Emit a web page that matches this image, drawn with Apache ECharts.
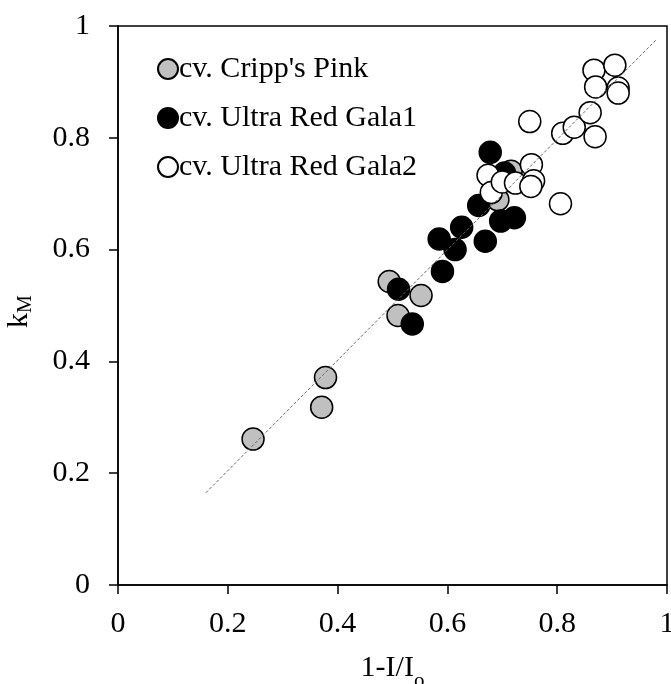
<!DOCTYPE html>
<html>
<head>
<meta charset="utf-8">
<script src="https://cdn.jsdelivr.net/npm/echarts@6/dist/echarts.min.js"></script>
<style>html,body{margin:0;padding:0;background:#fff;overflow:hidden;}#c{width:671px;height:684px;}</style>
</head>
<body>
<div id="c"></div>
<script>
// Series data [x = 1-I/Io, y = kM]
const crippsPink = [[0.246,0.261],[0.371,0.318],[0.378,0.371],[0.494,0.543],[0.510,0.482],[0.552,0.518],[0.692,0.689],[0.716,0.740]];
const gala1 = [[0.511,0.529],[0.536,0.467],[0.591,0.561],[0.585,0.619],[0.614,0.600],[0.626,0.640],[0.657,0.679],[0.669,0.615],[0.697,0.651],[0.722,0.657],[0.678,0.774],[0.704,0.737]];
const gala2 = [[0.674,0.733],[0.680,0.702],[0.700,0.721],[0.724,0.719],[0.753,0.752],[0.757,0.723],[0.752,0.713],[0.806,0.682],[0.750,0.829],[0.810,0.808],[0.831,0.819],[0.860,0.845],[0.869,0.802],[0.867,0.921],[0.905,0.930],[0.870,0.891],[0.911,0.889],[0.911,0.880]];
const fitLine = [[0.16,0.165],[0.98,0.975]];
const seriesNames = ["cv. Cripp's Pink","cv. Ultra Red Gala1","cv. Ultra Red Gala2"];
const xTicks = [0,0.2,0.4,0.6,0.8,1];
const yTicks = [0,0.2,0.4,0.6,0.8,1];

const FONT = 'Liberation Serif';
const chart = echarts.init(document.getElementById('c'));
const mk = (name, data, color) => ({
  name, type:'scatter', data, symbol:'circle', symbolSize:22,
  itemStyle:{color, borderColor:'#000', borderWidth:1.5, opacity:1},
  emphasis:{disabled:true}
});
chart.setOption({
  backgroundColor:'#fff',
  animation:false,
  grid:{left:118, right:4, top:26, bottom:99, outerBoundsMode:'none', containLabel:false,
        show:true, borderColor:'#000', borderWidth:1.5},
  legend:{
    orient:'vertical', left:157, top:54, padding:0, itemGap:19,
    itemWidth:20, itemHeight:20,
    textStyle:{fontFamily:FONT, fontSize:30, color:'#000', padding:[0,0,0,-4]},
    data:seriesNames.map(n=>({name:n, icon:'circle'}))
  },
  xAxis:{
    type:'value', min:0, max:1, interval:0.2,
    name:'{a|1-I/I}{b|o}', nameLocation:'middle', nameGap:60,
    nameTextStyle:{rich:{a:{fontFamily:FONT,fontSize:30,color:'#000'},b:{fontFamily:FONT,fontSize:21,color:'#000',padding:[26,0,0,0]}}},
    axisLine:{lineStyle:{color:'#000',width:1.5}},
    axisTick:{inside:false,length:9,lineStyle:{color:'#000',width:1.5}},
    axisLabel:{fontFamily:FONT,fontSize:30,color:'#000',margin:24,formatter:v=>String(xTicks.find(t=>Math.abs(t-v)<1e-9) ?? v)},
    splitLine:{show:false}
  },
  yAxis:{
    type:'value', min:0, max:1, interval:0.2,
    name:'{a|k}{b|M}', nameLocation:'middle', nameGap:82, nameRotate:90,
    nameTextStyle:{padding:[0,12,0,0],rich:{a:{fontFamily:FONT,fontSize:30,color:'#000'},b:{fontFamily:FONT,fontSize:20,color:'#000',padding:[14,0,0,0]}}},
    axisLine:{lineStyle:{color:'#000',width:1.5}},
    axisTick:{inside:false,length:9,lineStyle:{color:'#000',width:1.5}},
    axisLabel:{fontFamily:FONT,fontSize:30,color:'#000',margin:28,formatter:v=>String(yTicks.find(t=>Math.abs(t-v)<1e-9) ?? v)},
    splitLine:{show:false}
  },
  series:[
    mk(seriesNames[0], crippsPink, '#c0c0c0'),
    mk(seriesNames[1], gala1, '#000'),
    mk(seriesNames[2], gala2, '#fff'),
    {type:'line', data:fitLine, symbol:'none', z:10, silent:true,
     lineStyle:{color:'#666', width:1, type:[3,2]}}
  ]
});
</script>
</body>
</html>
